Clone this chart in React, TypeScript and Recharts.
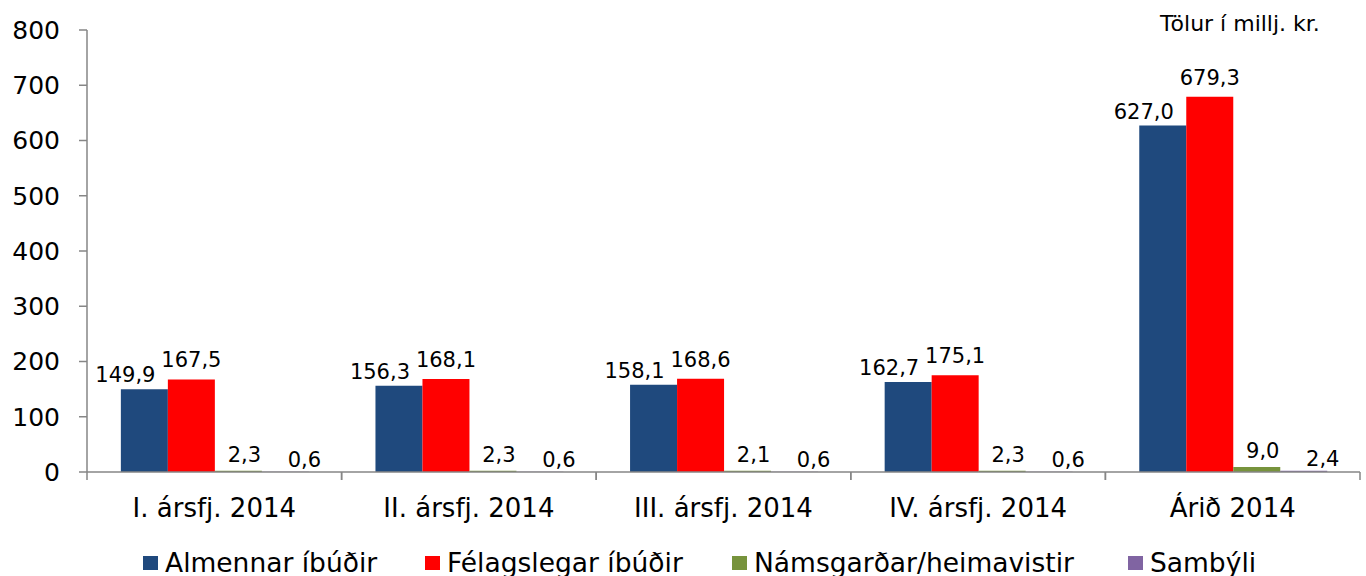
import React from 'react';
import { BarChart, Bar, XAxis, YAxis, Legend, LabelList } from 'recharts';

// Tölur í millj. kr.
const categories = ['I. ársfj. 2014', 'II. ársfj. 2014', 'III. ársfj. 2014', 'IV. ársfj. 2014', 'Árið 2014'];
const almennar = [149.9, 156.3, 158.1, 162.7, 627.0];
const felagslegar = [167.5, 168.1, 168.6, 175.1, 679.3];
const namsgardar = [2.3, 2.3, 2.1, 2.3, 9.0];
const sambyli = [0.6, 0.6, 0.6, 0.6, 2.4];
const yTicks = [0, 100, 200, 300, 400, 500, 600, 700, 800];

const data = categories.map((name, i) => ({
  name,
  almennar: almennar[i],
  felagslegar: felagslegar[i],
  namsgardar: namsgardar[i],
  sambyli: sambyli[i],
}));

const series = [
  { key: 'almennar', name: 'Almennar íbúðir', color: '#1F497D', dx: -19, dy: 7, legendLeft: 143 },
  { key: 'felagslegar', name: 'Félagslegar íbúðir', color: '#FF0000', dx: 0, dy: 12, legendLeft: 425 },
  { key: 'namsgardar', name: 'Námsgarðar/heimavistir', color: '#77933C', dx: 6, dy: 9, legendLeft: 732 },
  { key: 'sambyli', name: 'Sambýli', color: '#8064A2', dx: 19, dy: 5, legendLeft: 1128 },
];

const FONT = '"DejaVu Sans", Verdana, sans-serif';
const fmt = (v: number) => v.toFixed(1).replace('.', ',');

function makeLabel(dx: number, dy: number) {
  return (props: any) => {
    const { x, y, width, value } = props;
    return (
      <text x={x + width / 2 + dx} y={y - dy} textAnchor="middle" fontSize={21} fontFamily={FONT} fill="#000">
        {fmt(value)}
      </text>
    );
  };
}

function CategoryTick(props: any) {
  const { x, y, payload, visibleTicksCount, width } = props;
  const band = width && visibleTicksCount ? width / visibleTicksCount : 254.6;
  return (
    <g>
      <line x1={x - band / 2} x2={x - band / 2} y1={y - 8} y2={y} stroke="#868686" strokeWidth={1.5} />
      <line x1={x + band / 2} x2={x + band / 2} y1={y - 8} y2={y} stroke="#868686" strokeWidth={1.5} />
      <text x={x} y={y + 37} textAnchor="middle" fontSize={26} fontFamily={FONT} fill="#000">
        {payload.value}
      </text>
    </g>
  );
}

function LegendContent() {
  return (
    <div style={{ position: 'relative', width: 1366, height: 40, fontFamily: FONT }}>
      {series.map((s) => (
        <div key={s.key} style={{ position: 'absolute', left: s.legendLeft, top: 0 }}>
          <span style={{ position: 'absolute', left: 0, top: 20, width: 15, height: 14, background: s.color }} />
          <span style={{ position: 'absolute', left: 22, top: 13, fontSize: 26.5, lineHeight: '27px', whiteSpace: 'nowrap', color: '#000' }}>
            {s.name}
          </span>
        </div>
      ))}
    </div>
  );
}

export default function App() {
  if (typeof document !== 'undefined') document.body.style.margin = '0';
  return (
    <div style={{ position: 'relative', width: 1366, height: 576, background: '#fff', overflow: 'hidden' }}>
      <BarChart
        width={1366}
        height={576}
        data={data}
        margin={{ top: 30, right: 6, left: 0, bottom: 0 }}
        barGap={0}
        barCategoryGap="13.3%"
      >
        <XAxis
          dataKey="name"
          height={64}
          tickSize={8}
          tickMargin={0}
          tickLine={false}
          axisLine={{ stroke: '#868686', strokeWidth: 1.5 }}
          tick={<CategoryTick />}
          interval={0}
        />
        <YAxis
          width={87}
          domain={[0, 800]}
          ticks={yTicks}
          tickSize={8}
          tickMargin={19}
          axisLine={{ stroke: '#868686', strokeWidth: 1.5 }}
          tickLine={{ stroke: '#868686', strokeWidth: 1.5 }}
          tick={{ fontSize: 25, fill: '#000', fontFamily: FONT }}
          interval={0}
        />
        <Legend
          verticalAlign="bottom"
          content={<LegendContent />}
          wrapperStyle={{ left: 0, width: 1366, height: 40 }}
        />
        {series.map((s) => (
          <Bar key={s.key} dataKey={s.key} name={s.name} fill={s.color} isAnimationActive={false}>
            <LabelList dataKey={s.key} content={makeLabel(s.dx, s.dy)} />
          </Bar>
        ))}
      </BarChart>
      <div
        style={{
          position: 'absolute',
          left: 1160,
          top: 11,
          fontSize: 22,
          fontFamily: FONT,
          color: '#000',
          whiteSpace: 'nowrap',
        }}
      >
        Tölur í millj. kr.
      </div>
    </div>
  );
}
